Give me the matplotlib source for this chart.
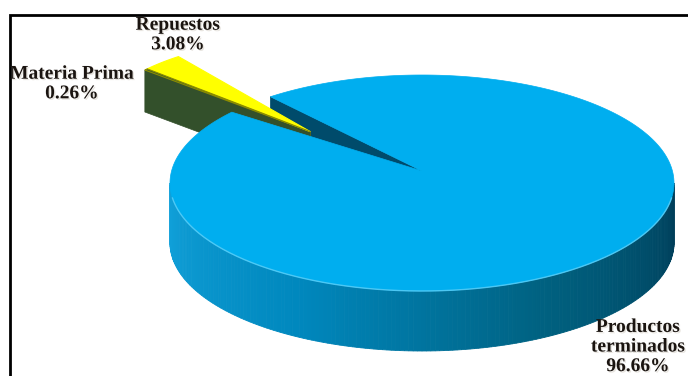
import numpy as np
import matplotlib.pyplot as plt
import matplotlib.patheffects as pe
from matplotlib.patches import Polygon
from matplotlib.colors import to_rgb

# ─── DATA ─────────────────────────────────────────────────────────────────────
labels = ["Productos\nterminados", "Repuestos", "Materia Prima"]
shares = [96.66, 3.08, 0.26]
# ──────────────────────────────────────────────────────────────────────────────

# ─── LOOK ─────────────────────────────────────────────────────────────────────
top_colors = ["#00AEEF", "#FFFF00", "#3A5A2C"]
face_colors = ["#004B6B", "#C9B800", "#33502B"]
label_pos = [(638, 347), (178, 35), (72, 84)]
CX, CY = 422, 183          # centre of the top ellipse (pixels)
RX, RY = 252, 108          # ellipse radii of the top face
APEX_DY = -12              # perspective: wedge apex sits a bit above centre
DEPTH = 60                 # thickness of the pie
START = 139.0              # angle where the big slice starts (deg, ccw)
EXPLODE = 0.65             # pull-out of the small slices
SMALL_SCALE, SMALL_DEPTH = 0.87, 42
# ──────────────────────────────────────────────────────────────────────────────


def pt(cx, cy, rx, ry, deg):
    t = np.radians(deg)
    return cx + rx * np.cos(t), cy - ry * np.sin(t)


def arc(cx, cy, rx, ry, a0, a1, n=200):
    t = np.radians(np.linspace(a0, a1, n))
    return np.column_stack([cx + rx * np.cos(t), cy - ry * np.sin(t)])


def lerp_color(stops, f):
    pos = np.linspace(0, 1, len(stops))
    rgb = np.array([to_rgb(c) for c in stops])
    return tuple(np.interp(f, pos, rgb[:, k]) for k in range(3))


fig = plt.figure(figsize=(6.88, 3.76), dpi=100)
ax = fig.add_axes([0, 0, 1, 1])
ax.set_xlim(0, 688)
ax.set_ylim(376, 0)
ax.axis("off")

# slice angles (counter-clockwise from START)
spans = np.array(shares) / sum(shares) * 360.0
starts = START + np.concatenate([[0], np.cumsum(spans)[:-1]])
ends = starts + spans
ax_, ay_ = CX, CY + APEX_DY

# big slice: front wall with left-to-right shading
wall_stops = ["#12A2DB", "#0088BE", "#00607F", "#003D58"]
t = np.linspace(180, 360, 181)
for k in range(len(t) - 1):
    x0, y0 = pt(CX, CY, RX, RY, t[k])
    x1, y1 = pt(CX, CY, RX, RY, t[k + 1])
    c = lerp_color(wall_stops, (t[k] - 180) / 180)
    quad = [(x0, y0), (x1, y1), (x1, y1 + DEPTH), (x0, y0 + DEPTH)]
    ax.add_patch(Polygon(quad, closed=True, fc=c, ec=c, lw=0.6))

# big slice: visible cut face at its end angle
ex, ey = pt(CX, CY, RX, RY, ends[0])
face = [(ax_, ay_), (ex, ey), (ex, ey + DEPTH), (ax_, ay_ + DEPTH)]
ax.add_patch(Polygon(face, closed=True, fc=face_colors[0], ec=face_colors[0], lw=0.5))

# small slices, pulled out together towards their common middle angle
mid = (starts[1] + ends[2]) / 2
ox = CX + EXPLODE * RX * np.cos(np.radians(mid))
oy = CY - EXPLODE * RY * np.sin(np.radians(mid))
rx_s, ry_s = RX * SMALL_SCALE, RY * SMALL_SCALE
for i in (1, 2):
    ex, ey = pt(ox, oy, rx_s, ry_s, ends[i])
    face = [(ox, oy), (ex, ey), (ex, ey + SMALL_DEPTH), (ox, oy + SMALL_DEPTH)]
    ax.add_patch(Polygon(face, closed=True, fc=face_colors[i], ec=face_colors[i], lw=0.5))
for i in (1, 2):
    top = np.vstack([[ox, oy], arc(ox, oy, rx_s, ry_s, starts[i], ends[i], 40)])
    ax.add_patch(Polygon(top, closed=True, fc=top_colors[i],
                         ec="#8C8C00" if i == 2 else top_colors[i], lw=0.8))

# big slice: top face
top = np.vstack([[ax_, ay_], arc(CX, CY, RX, RY, starts[0], ends[0], 400)])
ax.add_patch(Polygon(top, closed=True, fc=top_colors[0], ec=top_colors[0], lw=0.5))
rim = arc(CX, CY, RX, RY, 188, 352, 200)
ax.plot(rim[:, 0], rim[:, 1], color="#5FD0F8", lw=1.0, alpha=0.8)

# labels
shadow = [pe.SimplePatchShadow(offset=(1, -1), shadow_rgbFace="#8A7A60", alpha=0.2), pe.Normal()]
for name, val, (lx, ly) in zip(labels, shares, label_pos):
    ax.text(lx, ly, f"{name}\n{val:.2f}%", ha="center", va="center",
            fontsize=14, fontweight="bold", family="Liberation Serif",
            color="#1A1410", linespacing=1.2, path_effects=shadow)

# chart frame (top and left edges are in view)
ax.plot([10, 10, 688], [376, 15, 15], color="black", lw=2, solid_joinstyle="miter")

fig.savefig("out.png", dpi=100)
